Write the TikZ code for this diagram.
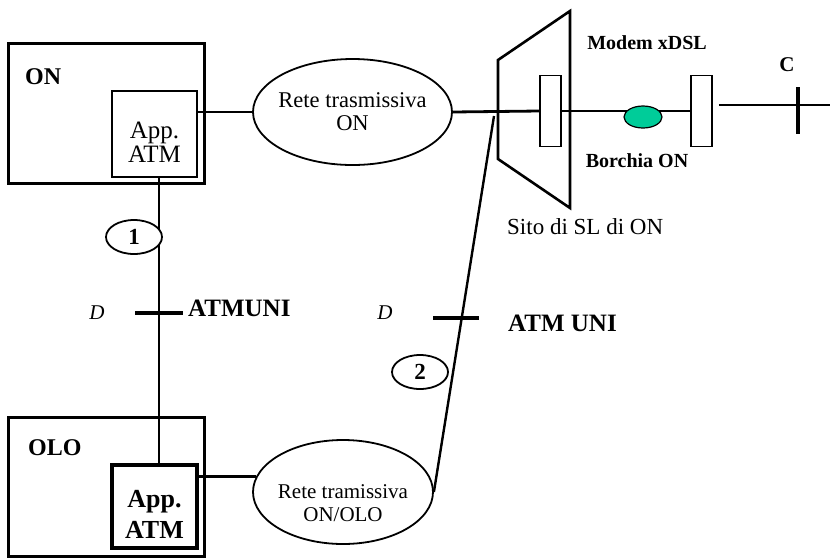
\documentclass[tikz,border=0pt]{standalone}
\usepackage{fontspec}
\setmainfont{Liberation Serif}
\usetikzlibrary{shapes.geometric}
\definecolor{ink}{HTML}{000000}
\definecolor{teal}{HTML}{00CC99}
\tikzset{
  site/.style={
    draw=ink,
    line width=3pt,
    inner sep=0pt
  },
  app/.style={
    draw=ink,
    inner sep=0pt,
    minimum width=85pt,
    minimum height=86pt
  },
  net/.style={
    ellipse,
    draw=ink,
    line width=1.8pt,
    inner sep=0pt
  },
  inside/.style={align=center,inner sep=0pt},
  modem/.style={draw=ink,line width=1.8pt,minimum width=21pt,minimum height=71pt,inner sep=0pt},
  tagnum/.style={ellipse,draw=ink,line width=1.8pt,minimum width=56pt,minimum height=34pt,
    inner sep=0pt,font=\fontsize{23}{23}\selectfont\bfseries},
  wire/.style={draw=ink,line width=2.8pt},
  tick/.style={draw=ink,line width=4.2pt},
  label/.style={font=\fontsize{20}{20}\selectfont\bfseries,inner sep=0pt}
}

\begin{document}
\begin{tikzpicture}[x=1pt,y=-1pt]
  \useasboundingbox (0,0) rectangle (830,558);

  % operator sites
  \node[site,minimum width=196pt,minimum height=140pt] (on) at (106,113) {};
  \node[site,minimum width=196pt,minimum height=139pt] (olo) at (106,486.5) {};
  \node[label,font=\fontsize{24}{24}\selectfont\bfseries,anchor=west] at (25,77) {ON};
  \node[label,font=\fontsize{24}{24}\selectfont\bfseries,anchor=west] at (28,448) {OLO};

  \node[app,line width=2.2pt] (onapp) at (154.5,134) {};
  \node[inside,font=\fontsize{25}{24}\selectfont] (onappTxt) at ([yshift=-8pt]onapp.center)
    {App.\\ATM};
  \node[app,line width=3.6pt,minimum height=83pt] (oloapp) at (154.5,506.5) {};
  \node[inside,font=\fontsize{26}{31}\selectfont\bfseries] (oloappTxt)
    at ([yshift=-8pt]oloapp.center) {App.\\ATM};

  % transmission networks
  \node[net,minimum width=199pt,minimum height=106pt] (rete1) at (352.5,112) {};
  \node[inside,font=\fontsize{22.5}{23}\selectfont] (rete1Txt) at (rete1.center)
    {Rete trasmissiva\\ON};
  \node[net,minimum width=180pt,minimum height=104pt] (rete2) at (343,492) {};
  \node[inside,font=\fontsize{21}{23}\selectfont] (rete2Txt) at ([yshift=-11pt]rete2.center)
    {Rete tramissiva\\ON/OLO};

  % SL site
  \coordinate (slTL) at (498,60);
  \coordinate (slTR) at (570,11);
  \coordinate (slBR) at (570,208);
  \coordinate (slBL) at (498,159);
  \draw[ink,line width=2.6pt] (slTL) -- (slTR) -- (slBR) -- (slBL) -- cycle;

  \node[modem] (modem1) at (550.5,111) {};
  \node[modem] (modem2) at (701.5,111) {};
  \coordinate (cEnd) at (830,105);
  \coordinate (slA) at (494,116);

  \draw[wire] (onapp.east |- rete1.west) -- (rete1.west);
  \draw[wire] (rete1.east) -- (modem1.west);
  \draw[wire] (modem1.east) -- (modem2.west);
  \draw[wire] ([xshift=6pt]modem2.east |- cEnd) -- (cEnd);
  \draw[wire] ([xshift=4.5pt]onapp.south) -- ([xshift=4.5pt]oloapp.north);
  \draw[wire,line width=2.4pt] (slA) -- (rete2.east);
  \draw[wire] (oloapp.east |- rete2.170) -- (rete2.170);

  \node[ellipse,fill=teal,draw=ink,line width=1.2pt,minimum width=38pt,minimum height=22pt,
    inner sep=0pt] (borchia) at (643,117) {};

  % reference points
  \draw[tick] (798,87) -- (798,134);
  \draw[tick] (135,313) -- (183,313);
  \draw[tick] (433,318) -- (479,318);

  \node[tagnum,fill=white] (uno) at (134,237) {1};
  \node[tagnum] (due) at (420,372) {2};

  % texts
  \node[label] (modemTxt) at (647,43) {Modem xDSL};
  \node[label] (borchiaTxt) at (637,161) {Borchia ON};
  \node[font=\fontsize{23}{23}\selectfont,anchor=west,inner sep=0pt] (sitoTxt) at (507,227) {Sito di SL di ON};
  \node[label,font=\fontsize{21}{21}\selectfont\bfseries] (cTxt) at (787,65) {C};
  \node[font=\fontsize{21}{21}\selectfont\itshape,inner sep=0pt] (dLeft) at (97,313) {D};
  \node[font=\fontsize{21}{21}\selectfont\itshape,inner sep=0pt] (dRight) at (385,313) {D};
  \node[label,font=\fontsize{25}{25}\selectfont\bfseries,anchor=west] (uniLeft) at (188,308) {ATMUNI};
  \node[label,font=\fontsize{25}{25}\selectfont\bfseries,anchor=west] (uniRight) at (508,323) {ATM UNI};
\end{tikzpicture}
\end{document}
